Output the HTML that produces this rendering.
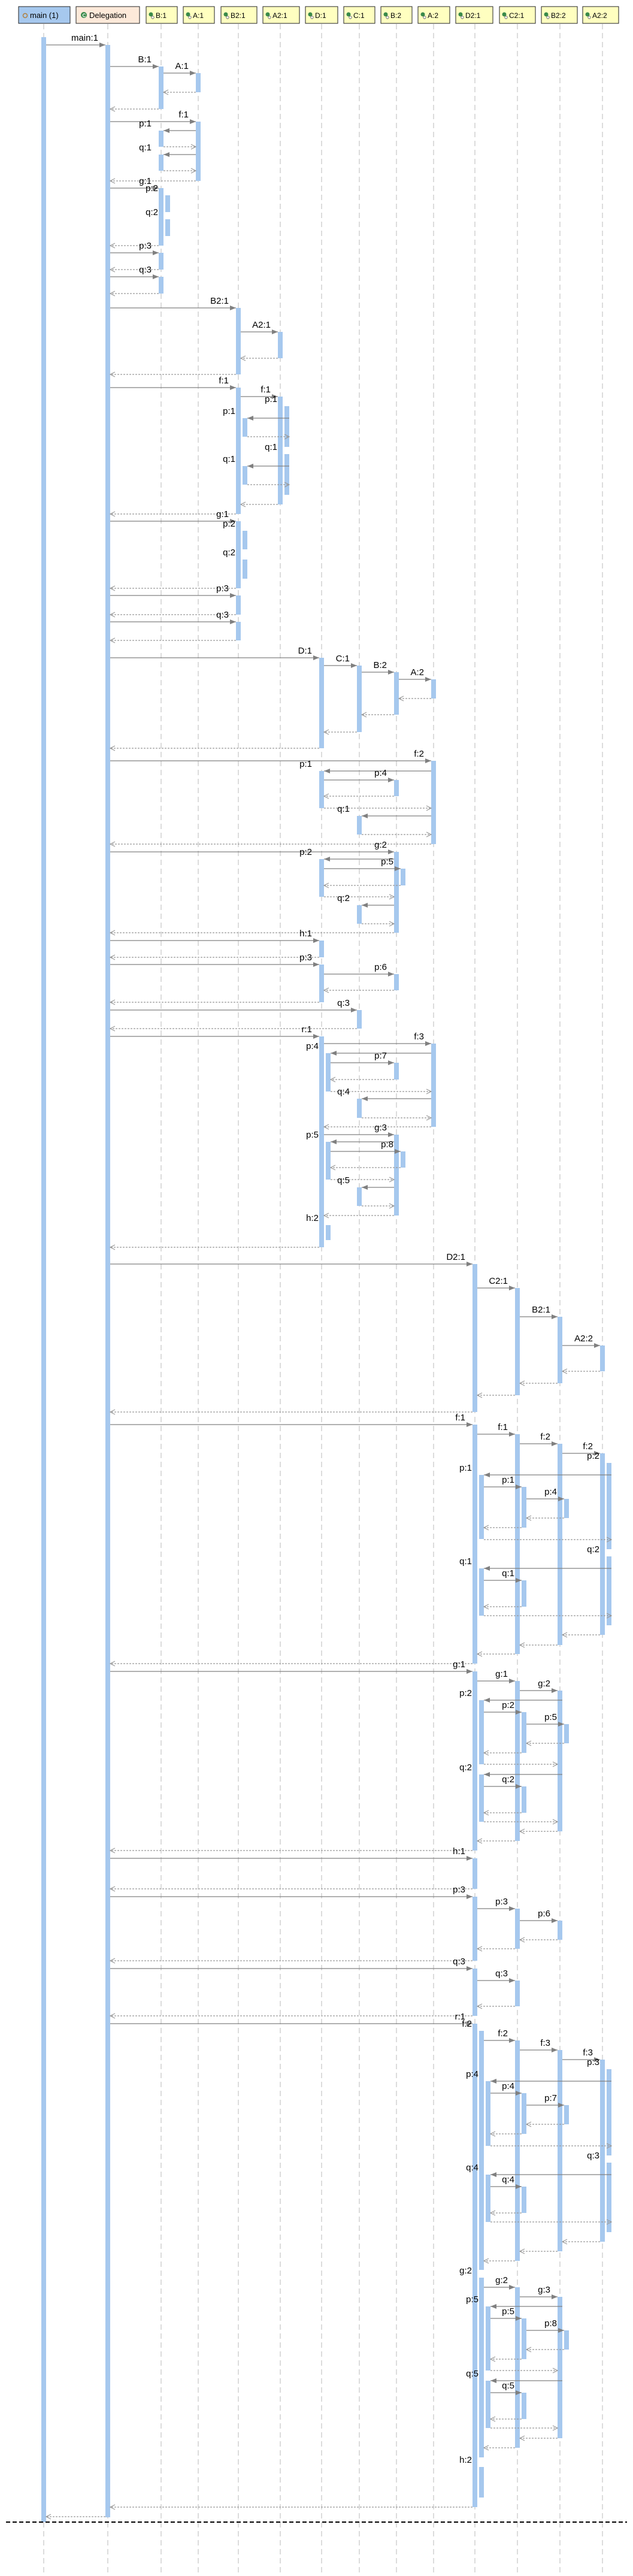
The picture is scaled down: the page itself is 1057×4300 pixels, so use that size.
<!DOCTYPE html>
<html><head><meta charset="utf-8">
<style>
html,body{margin:0;padding:0;background:#fff;}
svg{display:block}
.s{stroke:#808080;stroke-width:1.3;marker-end:url(#a)}
.d{stroke:#999;stroke-width:1.2;stroke-dasharray:3 2;marker-end:url(#o)}
.ll{stroke:#c4c4c4;stroke-width:1.2;stroke-dasharray:9 6}
.act rect{fill:#a6c8ee}
text{font-family:"Liberation Sans",sans-serif;font-size:15px;fill:#000}
.lb text{text-anchor:end}
.hd text{font-size:12px}
</style></head><body>
<svg width="1057" height="4300" viewBox="0 0 1057 4300" xmlns="http://www.w3.org/2000/svg">
<defs>
<marker id="a" markerWidth="10" markerHeight="8" refX="10" refY="4" orient="auto" markerUnits="userSpaceOnUse"><path d="M0,0 L10,4 L0,8 z" fill="#808080"/></marker>
<marker id="o" markerWidth="11" markerHeight="10" refX="9" refY="5" orient="auto" markerUnits="userSpaceOnUse"><path d="M1,1 L9,5 L1,9" fill="none" stroke="#999" stroke-width="1.2"/></marker>
</defs>
<!-- lifelines -->
<g class="ll">
<line x1="73" y1="40" x2="73" y2="4300"/><line x1="180" y1="40" x2="180" y2="4300"/>
<line x1="269" y1="40" x2="269" y2="4300"/><line x1="331" y1="40" x2="331" y2="4300"/>
<line x1="398" y1="40" x2="398" y2="4300"/><line x1="468" y1="40" x2="468" y2="4300"/>
<line x1="537" y1="40" x2="537" y2="4300"/><line x1="600" y1="40" x2="600" y2="4300"/>
<line x1="662" y1="40" x2="662" y2="4300"/><line x1="724" y1="40" x2="724" y2="4300"/>
<line x1="793" y1="40" x2="793" y2="4300"/><line x1="864" y1="40" x2="864" y2="4300"/>
<line x1="935" y1="40" x2="935" y2="4300"/><line x1="1006" y1="40" x2="1006" y2="4300"/>
</g>
<!-- header -->
<g class="hd">
<rect x="31" y="11" width="86" height="28" fill="#a6c8ee" stroke="#222"/>
<circle cx="42" cy="26" r="3.5" fill="none" stroke="#b08040" stroke-width="1.5"/><text x="50" y="30" style="font-size:13px">main (1)</text>
<rect x="127" y="11" width="106" height="28" fill="#fde9d9" stroke="#222"/>
<circle cx="140" cy="25" r="5" fill="#3a8a4a"/><text x="137.5" y="28.5" style="font-size:8px;fill:#fff;font-weight:bold">C</text><text x="149" y="30" style="font-size:13px">Delegation</text>
<g fill="#ffffc0" stroke="#222">
<rect x="244" y="11" width="52" height="28"/><rect x="306" y="11" width="52" height="28"/>
<rect x="369" y="11" width="60" height="28"/><rect x="439" y="11" width="61" height="28"/>
<rect x="510" y="11" width="54" height="28"/><rect x="574" y="11" width="52" height="28"/>
<rect x="636" y="11" width="52" height="28"/><rect x="698" y="11" width="53" height="28"/>
<rect x="761" y="11" width="62" height="28"/><rect x="834" y="11" width="60" height="28"/>
<rect x="904" y="11" width="60" height="28"/><rect x="973" y="11" width="60" height="28"/>
</g>
<g fill="#3a8a4a">
<circle cx="252" cy="24" r="3.5"/><circle cx="314" cy="24" r="3.5"/><circle cx="377" cy="24" r="3.5"/><circle cx="447" cy="24" r="3.5"/>
<circle cx="518" cy="24" r="3.5"/><circle cx="582" cy="24" r="3.5"/><circle cx="644" cy="24" r="3.5"/><circle cx="706" cy="24" r="3.5"/>
<circle cx="769" cy="24" r="3.5"/><circle cx="842" cy="24" r="3.5"/><circle cx="912" cy="24" r="3.5"/><circle cx="981" cy="24" r="3.5"/>
</g>
<g fill="#fff" stroke="#555" stroke-width="0.8">
<circle cx="255" cy="29" r="2.2"/><circle cx="317" cy="29" r="2.2"/><circle cx="380" cy="29" r="2.2"/><circle cx="450" cy="29" r="2.2"/>
<circle cx="521" cy="29" r="2.2"/><circle cx="585" cy="29" r="2.2"/><circle cx="647" cy="29" r="2.2"/><circle cx="709" cy="29" r="2.2"/>
<circle cx="772" cy="29" r="2.2"/><circle cx="845" cy="29" r="2.2"/><circle cx="915" cy="29" r="2.2"/><circle cx="984" cy="29" r="2.2"/>
</g>
<text x="260" y="30">B:1</text><text x="322" y="30">A:1</text><text x="385" y="30">B2:1</text><text x="455" y="30">A2:1</text>
<text x="526" y="30">D:1</text><text x="590" y="30">C:1</text><text x="652" y="30">B:2</text><text x="714" y="30">A:2</text>
<text x="777" y="30">D2:1</text><text x="850" y="30">C2:1</text><text x="920" y="30">B2:2</text><text x="989" y="30">A2:2</text>
</g>
<!-- activations -->
<g class="act">
<rect x="69" y="62" width="8" height="4148"/><rect x="176" y="75" width="8" height="4127"/>
<rect x="265" y="111" width="8" height="71"/><rect x="327" y="122" width="8" height="32"/>
<rect x="327" y="203" width="8" height="99"/><rect x="265" y="218" width="8" height="27"/>
<rect x="265" y="258" width="8" height="27"/><rect x="265" y="314" width="8" height="96"/>
<rect x="276" y="326" width="8" height="28"/><rect x="276" y="366" width="8" height="28"/>
<rect x="265" y="422" width="8" height="28"/><rect x="265" y="462" width="8" height="28"/>
<rect x="394" y="514" width="8" height="111"/><rect x="464" y="554" width="8" height="44"/>
<rect x="394" y="647" width="8" height="211"/><rect x="464" y="662" width="8" height="180"/>
<rect x="475" y="678" width="8" height="68"/><rect x="405" y="698" width="8" height="31"/>
<rect x="475" y="758" width="8" height="68"/><rect x="405" y="778" width="8" height="31"/>
<rect x="394" y="870" width="8" height="112"/><rect x="405" y="886" width="8" height="31"/>
<rect x="405" y="934" width="8" height="32"/><rect x="394" y="994" width="8" height="32"/>
<rect x="394" y="1038" width="8" height="31"/>
<rect x="533" y="1098" width="8" height="151"/><rect x="596" y="1111" width="8" height="111"/>
<rect x="658" y="1122" width="8" height="71"/><rect x="720" y="1134" width="8" height="32"/>
<rect x="720" y="1270" width="8" height="139"/><rect x="533" y="1287" width="8" height="62"/>
<rect x="658" y="1302" width="8" height="27"/><rect x="596" y="1362" width="8" height="31"/>
<rect x="658" y="1422" width="8" height="135"/><rect x="533" y="1434" width="8" height="63"/>
<rect x="669" y="1450" width="8" height="28"/><rect x="596" y="1511" width="8" height="31"/>
<rect x="533" y="1570" width="8" height="28"/><rect x="533" y="1610" width="8" height="63"/>
<rect x="658" y="1626" width="8" height="27"/><rect x="596" y="1686" width="8" height="31"/>
<rect x="533" y="1730" width="8" height="352"/><rect x="720" y="1742" width="8" height="139"/>
<rect x="544" y="1758" width="8" height="64"/><rect x="658" y="1774" width="8" height="28"/>
<rect x="596" y="1834" width="8" height="32"/><rect x="658" y="1894" width="8" height="135"/>
<rect x="544" y="1906" width="8" height="63"/><rect x="669" y="1922" width="8" height="27"/>
<rect x="596" y="1982" width="8" height="31"/><rect x="544" y="2045" width="8" height="25"/>
<rect x="789" y="2110" width="8" height="247"/><rect x="860" y="2150" width="8" height="179"/>
<rect x="931" y="2198" width="8" height="111"/><rect x="1002" y="2246" width="8" height="43"/>
<rect x="789" y="2378" width="8" height="399"/><rect x="860" y="2394" width="8" height="367"/>
<rect x="931" y="2410" width="8" height="336"/><rect x="1002" y="2426" width="8" height="303"/>
<rect x="1013" y="2442" width="8" height="144"/><rect x="800" y="2462" width="8" height="107"/>
<rect x="871" y="2482" width="8" height="68"/><rect x="942" y="2502" width="8" height="32"/>
<rect x="1013" y="2598" width="8" height="115"/><rect x="800" y="2618" width="8" height="79"/>
<rect x="871" y="2638" width="8" height="44"/>
<rect x="789" y="2790" width="8" height="299"/><rect x="860" y="2806" width="8" height="267"/>
<rect x="931" y="2822" width="8" height="235"/><rect x="800" y="2838" width="8" height="107"/>
<rect x="871" y="2858" width="8" height="68"/><rect x="942" y="2878" width="8" height="32"/>
<rect x="800" y="2962" width="8" height="79"/><rect x="871" y="2982" width="8" height="44"/>
<rect x="789" y="3102" width="8" height="51"/><rect x="789" y="3166" width="8" height="107"/>
<rect x="860" y="3186" width="8" height="67"/><rect x="931" y="3206" width="8" height="32"/>
<rect x="789" y="3286" width="8" height="79"/><rect x="860" y="3306" width="8" height="43"/>
<rect x="789" y="3378" width="8" height="807"/><rect x="800" y="3390" width="8" height="399"/>
<rect x="860" y="3406" width="8" height="368"/><rect x="931" y="3422" width="8" height="336"/>
<rect x="1002" y="3438" width="8" height="304"/><rect x="1013" y="3454" width="8" height="144"/>
<rect x="811" y="3474" width="8" height="108"/><rect x="871" y="3494" width="8" height="68"/>
<rect x="942" y="3514" width="8" height="32"/><rect x="1013" y="3610" width="8" height="116"/>
<rect x="811" y="3630" width="8" height="79"/><rect x="871" y="3650" width="8" height="44"/>
<rect x="800" y="3802" width="8" height="300"/><rect x="860" y="3818" width="8" height="268"/>
<rect x="931" y="3834" width="8" height="236"/><rect x="811" y="3850" width="8" height="107"/>
<rect x="871" y="3870" width="8" height="68"/><rect x="942" y="3890" width="8" height="32"/>
<rect x="811" y="3974" width="8" height="79"/><rect x="871" y="3994" width="8" height="44"/>
<rect x="800" y="4118" width="8" height="51"/>
</g>
<!-- messages -->
<g>
<line class="s" x1="77" y1="75" x2="176" y2="75"/>
<line class="s" x1="184" y1="111" x2="265" y2="111"/>
<line class="s" x1="273" y1="122" x2="327" y2="122"/>
<line class="d" x1="327" y1="154" x2="273" y2="154"/>
<line class="d" x1="265" y1="182" x2="184" y2="182"/>
<line class="s" x1="184" y1="203" x2="327" y2="203"/>
<line class="s" x1="327" y1="218" x2="273" y2="218"/>
<line class="d" x1="273" y1="245" x2="327" y2="245"/>
<line class="s" x1="327" y1="258" x2="273" y2="258"/>
<line class="d" x1="273" y1="285" x2="327" y2="285"/>
<line class="d" x1="327" y1="302" x2="184" y2="302"/>
<line class="s" x1="184" y1="314" x2="265" y2="314"/>
<line class="d" x1="265" y1="410" x2="184" y2="410"/>
<line class="s" x1="184" y1="422" x2="265" y2="422"/>
<line class="d" x1="265" y1="450" x2="184" y2="450"/>
<line class="s" x1="184" y1="462" x2="265" y2="462"/>
<line class="d" x1="265" y1="490" x2="184" y2="490"/>
<line class="s" x1="184" y1="514" x2="394" y2="514"/>
<line class="s" x1="402" y1="554" x2="464" y2="554"/>
<line class="d" x1="464" y1="598" x2="402" y2="598"/>
<line class="d" x1="394" y1="625" x2="184" y2="625"/>
<line class="s" x1="184" y1="647" x2="394" y2="647"/>
<line class="s" x1="402" y1="662" x2="464" y2="662"/>
<line class="s" x1="483" y1="698" x2="413" y2="698"/>
<line class="d" x1="413" y1="729" x2="483" y2="729"/>
<line class="s" x1="483" y1="778" x2="413" y2="778"/>
<line class="d" x1="413" y1="809" x2="483" y2="809"/>
<line class="d" x1="464" y1="842" x2="402" y2="842"/>
<line class="d" x1="394" y1="858" x2="184" y2="858"/>
<line class="s" x1="184" y1="870" x2="394" y2="870"/>
<line class="d" x1="394" y1="982" x2="184" y2="982"/>
<line class="s" x1="184" y1="994" x2="394" y2="994"/>
<line class="d" x1="394" y1="1026" x2="184" y2="1026"/>
<line class="s" x1="184" y1="1038" x2="394" y2="1038"/>
<line class="d" x1="394" y1="1069" x2="184" y2="1069"/>
<line class="s" x1="184" y1="1098" x2="533" y2="1098"/>
<line class="s" x1="541" y1="1111" x2="596" y2="1111"/>
<line class="s" x1="604" y1="1122" x2="658" y2="1122"/>
<line class="s" x1="666" y1="1134" x2="720" y2="1134"/>
<line class="d" x1="720" y1="1166" x2="666" y2="1166"/>
<line class="d" x1="658" y1="1193" x2="604" y2="1193"/>
<line class="d" x1="596" y1="1222" x2="541" y2="1222"/>
<line class="d" x1="533" y1="1249" x2="184" y2="1249"/>
<line class="s" x1="184" y1="1270" x2="720" y2="1270"/>
<line class="s" x1="720" y1="1287" x2="541" y2="1287"/>
<line class="s" x1="541" y1="1302" x2="658" y2="1302"/>
<line class="d" x1="658" y1="1329" x2="541" y2="1329"/>
<line class="d" x1="541" y1="1349" x2="720" y2="1349"/>
<line class="s" x1="720" y1="1362" x2="604" y2="1362"/>
<line class="d" x1="604" y1="1393" x2="720" y2="1393"/>
<line class="d" x1="720" y1="1409" x2="184" y2="1409"/>
<line class="s" x1="184" y1="1422" x2="658" y2="1422"/>
<line class="s" x1="658" y1="1434" x2="541" y2="1434"/>
<line class="s" x1="541" y1="1450" x2="669" y2="1450"/>
<line class="d" x1="669" y1="1478" x2="541" y2="1478"/>
<line class="d" x1="541" y1="1497" x2="658" y2="1497"/>
<line class="s" x1="658" y1="1511" x2="604" y2="1511"/>
<line class="d" x1="604" y1="1542" x2="658" y2="1542"/>
<line class="d" x1="658" y1="1557" x2="184" y2="1557"/>
<line class="s" x1="184" y1="1570" x2="533" y2="1570"/>
<line class="d" x1="533" y1="1598" x2="184" y2="1598"/>
<line class="s" x1="184" y1="1610" x2="533" y2="1610"/>
<line class="s" x1="541" y1="1626" x2="658" y2="1626"/>
<line class="d" x1="658" y1="1653" x2="541" y2="1653"/>
<line class="d" x1="533" y1="1673" x2="184" y2="1673"/>
<line class="s" x1="184" y1="1686" x2="596" y2="1686"/>
<line class="d" x1="596" y1="1717" x2="184" y2="1717"/>
<line class="s" x1="184" y1="1730" x2="533" y2="1730"/>
<line class="s" x1="541" y1="1742" x2="720" y2="1742"/>
<line class="s" x1="720" y1="1758" x2="552" y2="1758"/>
<line class="s" x1="552" y1="1774" x2="658" y2="1774"/>
<line class="d" x1="658" y1="1802" x2="552" y2="1802"/>
<line class="d" x1="552" y1="1822" x2="720" y2="1822"/>
<line class="s" x1="720" y1="1834" x2="604" y2="1834"/>
<line class="d" x1="604" y1="1866" x2="720" y2="1866"/>
<line class="d" x1="720" y1="1881" x2="541" y2="1881"/>
<line class="s" x1="541" y1="1894" x2="658" y2="1894"/>
<line class="s" x1="658" y1="1906" x2="552" y2="1906"/>
<line class="s" x1="552" y1="1922" x2="669" y2="1922"/>
<line class="d" x1="669" y1="1949" x2="552" y2="1949"/>
<line class="d" x1="552" y1="1969" x2="658" y2="1969"/>
<line class="s" x1="658" y1="1982" x2="604" y2="1982"/>
<line class="d" x1="604" y1="2013" x2="658" y2="2013"/>
<line class="d" x1="658" y1="2029" x2="541" y2="2029"/>
<line class="d" x1="533" y1="2082" x2="184" y2="2082"/>
<line class="s" x1="184" y1="2110" x2="789" y2="2110"/>
<line class="s" x1="797" y1="2150" x2="860" y2="2150"/>
<line class="s" x1="868" y1="2198" x2="931" y2="2198"/>
<line class="s" x1="939" y1="2246" x2="1002" y2="2246"/>
<line class="d" x1="1002" y1="2289" x2="939" y2="2289"/>
<line class="d" x1="931" y1="2309" x2="868" y2="2309"/>
<line class="d" x1="860" y1="2329" x2="797" y2="2329"/>
<line class="d" x1="789" y1="2357" x2="184" y2="2357"/>
<line class="s" x1="184" y1="2378" x2="789" y2="2378"/>
<line class="s" x1="797" y1="2394" x2="860" y2="2394"/>
<line class="s" x1="868" y1="2410" x2="931" y2="2410"/>
<line class="s" x1="939" y1="2426" x2="1002" y2="2426"/>
<line class="s" x1="1021" y1="2462" x2="808" y2="2462"/>
<line class="s" x1="808" y1="2482" x2="871" y2="2482"/>
<line class="s" x1="879" y1="2502" x2="942" y2="2502"/>
<line class="d" x1="942" y1="2534" x2="879" y2="2534"/>
<line class="d" x1="871" y1="2550" x2="808" y2="2550"/>
<line class="d" x1="808" y1="2570" x2="1021" y2="2570"/>
<line class="s" x1="1021" y1="2618" x2="808" y2="2618"/>
<line class="s" x1="808" y1="2638" x2="871" y2="2638"/>
<line class="d" x1="871" y1="2682" x2="808" y2="2682"/>
<line class="d" x1="808" y1="2697" x2="1021" y2="2697"/>
<line class="d" x1="1002" y1="2729" x2="939" y2="2729"/>
<line class="d" x1="931" y1="2746" x2="868" y2="2746"/>
<line class="d" x1="860" y1="2761" x2="797" y2="2761"/>
<line class="d" x1="789" y1="2777" x2="184" y2="2777"/>
<line class="s" x1="184" y1="2790" x2="789" y2="2790"/>
<line class="s" x1="797" y1="2806" x2="860" y2="2806"/>
<line class="s" x1="868" y1="2822" x2="931" y2="2822"/>
<line class="s" x1="939" y1="2838" x2="808" y2="2838"/>
<line class="s" x1="808" y1="2858" x2="871" y2="2858"/>
<line class="s" x1="879" y1="2878" x2="942" y2="2878"/>
<line class="d" x1="942" y1="2910" x2="879" y2="2910"/>
<line class="d" x1="871" y1="2926" x2="808" y2="2926"/>
<line class="d" x1="808" y1="2945" x2="931" y2="2945"/>
<line class="s" x1="939" y1="2962" x2="808" y2="2962"/>
<line class="s" x1="808" y1="2982" x2="871" y2="2982"/>
<line class="d" x1="871" y1="3026" x2="808" y2="3026"/>
<line class="d" x1="808" y1="3041" x2="931" y2="3041"/>
<line class="d" x1="931" y1="3057" x2="868" y2="3057"/>
<line class="d" x1="860" y1="3073" x2="797" y2="3073"/>
<line class="d" x1="789" y1="3089" x2="184" y2="3089"/>
<line class="s" x1="184" y1="3102" x2="789" y2="3102"/>
<line class="d" x1="789" y1="3153" x2="184" y2="3153"/>
<line class="s" x1="184" y1="3166" x2="789" y2="3166"/>
<line class="s" x1="797" y1="3186" x2="860" y2="3186"/>
<line class="s" x1="868" y1="3206" x2="931" y2="3206"/>
<line class="d" x1="931" y1="3238" x2="868" y2="3238"/>
<line class="d" x1="860" y1="3253" x2="797" y2="3253"/>
<line class="d" x1="789" y1="3273" x2="184" y2="3273"/>
<line class="s" x1="184" y1="3286" x2="789" y2="3286"/>
<line class="s" x1="797" y1="3306" x2="860" y2="3306"/>
<line class="d" x1="860" y1="3349" x2="797" y2="3349"/>
<line class="d" x1="789" y1="3365" x2="184" y2="3365"/>
<line class="s" x1="184" y1="3378" x2="789" y2="3378"/>
<line class="s" x1="808" y1="3406" x2="860" y2="3406"/>
<line class="s" x1="868" y1="3422" x2="931" y2="3422"/>
<line class="s" x1="939" y1="3438" x2="1002" y2="3438"/>
<line class="s" x1="1021" y1="3474" x2="819" y2="3474"/>
<line class="s" x1="819" y1="3494" x2="871" y2="3494"/>
<line class="s" x1="879" y1="3514" x2="942" y2="3514"/>
<line class="d" x1="942" y1="3546" x2="879" y2="3546"/>
<line class="d" x1="871" y1="3562" x2="819" y2="3562"/>
<line class="d" x1="819" y1="3582" x2="1021" y2="3582"/>
<line class="s" x1="1021" y1="3630" x2="819" y2="3630"/>
<line class="s" x1="819" y1="3650" x2="871" y2="3650"/>
<line class="d" x1="871" y1="3694" x2="819" y2="3694"/>
<line class="d" x1="819" y1="3709" x2="1021" y2="3709"/>
<line class="d" x1="1002" y1="3742" x2="939" y2="3742"/>
<line class="d" x1="931" y1="3758" x2="868" y2="3758"/>
<line class="d" x1="860" y1="3774" x2="808" y2="3774"/>
<line class="s" x1="808" y1="3818" x2="860" y2="3818"/>
<line class="s" x1="868" y1="3834" x2="931" y2="3834"/>
<line class="s" x1="939" y1="3850" x2="819" y2="3850"/>
<line class="s" x1="819" y1="3870" x2="871" y2="3870"/>
<line class="s" x1="879" y1="3890" x2="942" y2="3890"/>
<line class="d" x1="942" y1="3922" x2="879" y2="3922"/>
<line class="d" x1="871" y1="3938" x2="819" y2="3938"/>
<line class="d" x1="819" y1="3957" x2="931" y2="3957"/>
<line class="s" x1="939" y1="3974" x2="819" y2="3974"/>
<line class="s" x1="819" y1="3994" x2="871" y2="3994"/>
<line class="d" x1="871" y1="4038" x2="819" y2="4038"/>
<line class="d" x1="819" y1="4053" x2="931" y2="4053"/>
<line class="d" x1="931" y1="4070" x2="868" y2="4070"/>
<line class="d" x1="860" y1="4086" x2="808" y2="4086"/>
<line class="d" x1="789" y1="4185" x2="184" y2="4185"/>
<line class="d" x1="176" y1="4201" x2="77" y2="4201"/>
</g>
<!-- labels -->
<g class="lb">
<text x="164" y="68">main:1</text>
<text x="253" y="104">B:1</text><text x="315" y="115">A:1</text>
<text x="315" y="196">f:1</text><text x="253" y="211">p:1</text><text x="253" y="251">q:1</text>
<text x="253" y="307">g:1</text><text x="264" y="319">p:2</text><text x="264" y="359">q:2</text>
<text x="253" y="415">p:3</text><text x="253" y="455">q:3</text>
<text x="382" y="507">B2:1</text><text x="452" y="547">A2:1</text>
<text x="382" y="640">f:1</text><text x="452" y="655">f:1</text><text x="463" y="671">p:1</text>
<text x="393" y="691">p:1</text><text x="463" y="751">q:1</text><text x="393" y="771">q:1</text>
<text x="382" y="863">g:1</text><text x="393" y="879">p:2</text><text x="393" y="927">q:2</text>
<text x="382" y="987">p:3</text><text x="382" y="1031">q:3</text>
<text x="521" y="1091">D:1</text><text x="584" y="1104">C:1</text><text x="646" y="1115">B:2</text><text x="708" y="1127">A:2</text>
<text x="708" y="1263">f:2</text><text x="521" y="1280">p:1</text><text x="646" y="1295">p:4</text>
<text x="584" y="1355">q:1</text><text x="646" y="1415">g:2</text><text x="521" y="1427">p:2</text>
<text x="657" y="1443">p:5</text><text x="584" y="1504">q:2</text><text x="521" y="1563">h:1</text>
<text x="521" y="1603">p:3</text><text x="646" y="1619">p:6</text><text x="584" y="1679">q:3</text>
<text x="521" y="1723">r:1</text><text x="708" y="1735">f:3</text><text x="532" y="1751">p:4</text>
<text x="646" y="1767">p:7</text><text x="584" y="1827">q:4</text><text x="646" y="1887">g:3</text>
<text x="532" y="1899">p:5</text><text x="657" y="1915">p:8</text><text x="584" y="1975">q:5</text>
<text x="532" y="2038">h:2</text>
<text x="777" y="2103">D2:1</text><text x="848" y="2143">C2:1</text><text x="919" y="2191">B2:1</text><text x="990" y="2239">A2:2</text>
<text x="777" y="2371">f:1</text><text x="848" y="2387">f:1</text><text x="919" y="2403">f:2</text><text x="990" y="2419">f:2</text>
<text x="1001" y="2435">p:2</text><text x="788" y="2455">p:1</text><text x="859" y="2475">p:1</text><text x="930" y="2495">p:4</text>
<text x="1001" y="2591">q:2</text><text x="788" y="2611">q:1</text><text x="859" y="2631">q:1</text>
<text x="777" y="2783">g:1</text><text x="848" y="2799">g:1</text><text x="919" y="2815">g:2</text>
<text x="788" y="2831">p:2</text><text x="859" y="2851">p:2</text><text x="930" y="2871">p:5</text>
<text x="788" y="2955">q:2</text><text x="859" y="2975">q:2</text>
<text x="777" y="3095">h:1</text><text x="777" y="3159">p:3</text><text x="848" y="3179">p:3</text><text x="919" y="3199">p:6</text>
<text x="777" y="3279">q:3</text><text x="848" y="3299">q:3</text>
<text x="777" y="3371">r:1</text><text x="788" y="3383">f:2</text><text x="848" y="3399">f:2</text><text x="919" y="3415">f:3</text>
<text x="990" y="3431">f:3</text><text x="1001" y="3447">p:3</text><text x="799" y="3467">p:4</text><text x="859" y="3487">p:4</text>
<text x="930" y="3507">p:7</text><text x="1001" y="3603">q:3</text><text x="799" y="3623">q:4</text><text x="859" y="3643">q:4</text>
<text x="788" y="3795">g:2</text><text x="848" y="3811">g:2</text><text x="919" y="3827">g:3</text>
<text x="799" y="3843">p:5</text><text x="859" y="3863">p:5</text><text x="930" y="3883">p:8</text>
<text x="799" y="3967">q:5</text><text x="859" y="3987">q:5</text>
<text x="788" y="4111">h:2</text>
</g>
<line x1="10" y1="4210" x2="1047" y2="4210" stroke="#000" stroke-width="2" stroke-dasharray="7 4"/>
</svg>
</body></html>
